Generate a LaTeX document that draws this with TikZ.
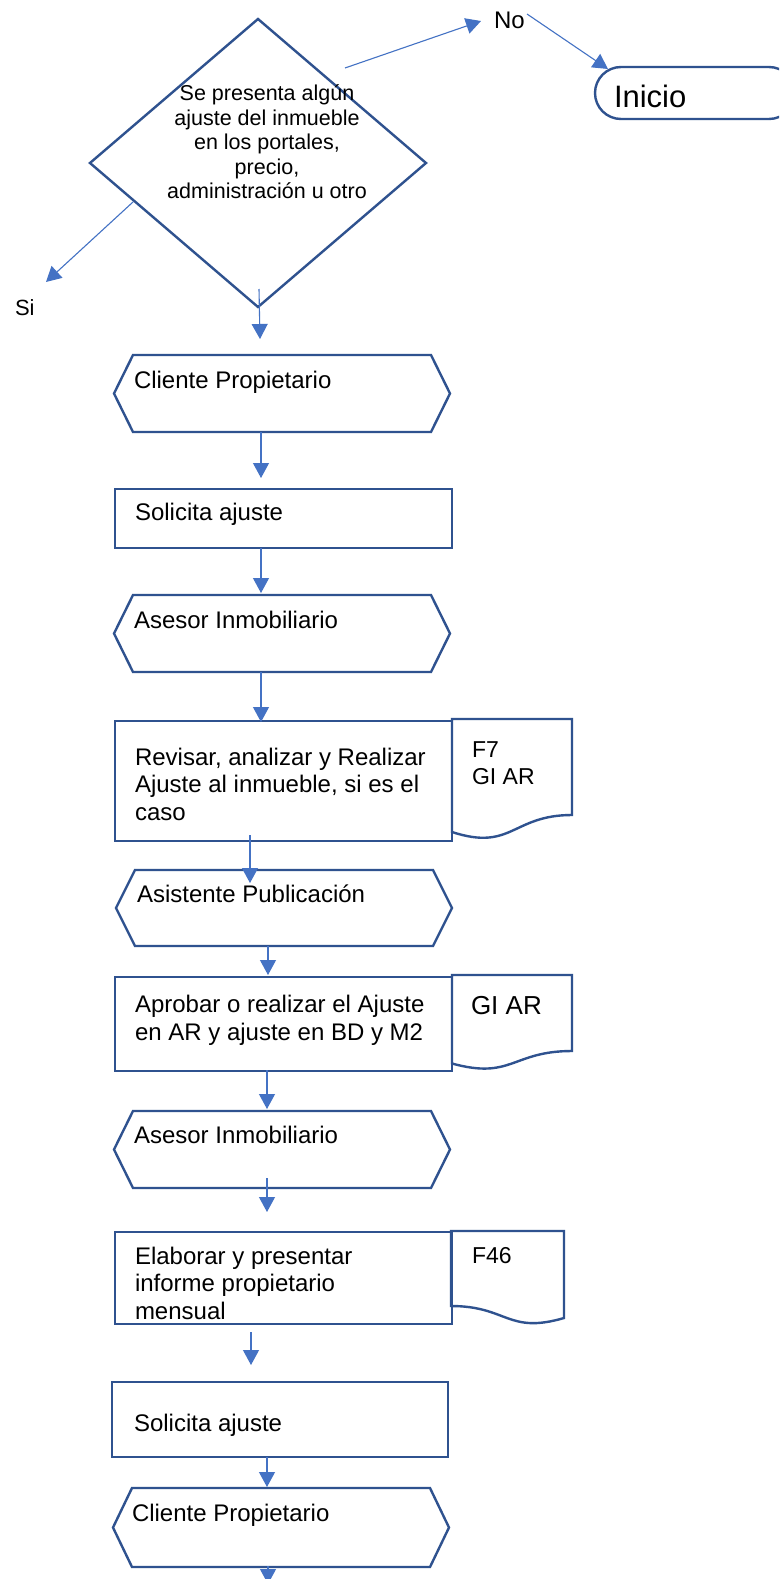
\documentclass[tikz,border=0pt]{standalone}
\usepackage{fontspec}
\setmainfont{Liberation Sans}
\usetikzlibrary{arrows.meta,calc}
\definecolor{shapeblue}{HTML}{2F528F}
\definecolor{linkblue}{HTML}{4472C4}

\tikzset{
  shp/.style={draw=shapeblue, line width=2.4pt, line join=miter},
  procbox/.style={shp, rectangle, inner sep=0pt, outer sep=0pt},
  hexframe/.style={rectangle, inner sep=0pt, outer sep=0pt},
  conn/.style={draw=linkblue, line width=1.1pt, -{Triangle[length=15pt,width=16pt]}},
  lbl/.style={anchor=base west, inner sep=0pt, outer sep=0pt, align=left,
              font=\fontsize{24}{27.4}\selectfont},
}

% horizontal hexagon drawn on the anchors of an empty frame node
\newcommand\hexoutline[1]{%
  \draw[shp] (#1.west) -- ([xshift=19pt]#1.north west) -- ([xshift=-19pt]#1.north east)
    -- (#1.east) -- ([xshift=-19pt]#1.south east) -- ([xshift=19pt]#1.south west) -- cycle;}

\begin{document}
\begin{tikzpicture}[x=1pt, y=-1pt]
\useasboundingbox (0,0) rectangle (779,1579);
\fill[white] (0,0) rectangle (779,1579);
\clip (0,0) rectangle (779,1579);

% decision
\coordinate (dtop) at (258,19);
\coordinate (dright) at (426,163);
\coordinate (dbottom) at (258,307);
\coordinate (dleft) at (90,163);
\draw[shp] (dtop) -- (dright) -- (dbottom) -- (dleft) -- cycle;
\node[align=center, inner sep=0pt, font=\fontsize{21.5}{24.5}\selectfont] (q) at (267,142)
  {Se presenta algún\\ajuste del inmueble\\en los portales,\\precio,\\administración u otro};

% start terminal
\node[procbox, rounded corners=26pt, minimum width=200pt, minimum height=52pt] (inicio) at (695,93) {};
\node[lbl, font=\fontsize{31}{35}\selectfont] (tinicio) at (614,107) {Inicio};

% branch labels
\node[lbl] (no) at (494,29) {No};
\node[lbl, font=\fontsize{22}{25}\selectfont] (si) at (15,315) {Si};

% frames of the steps
\node[hexframe, minimum width=336pt, minimum height=77pt] (h1) at (282,393.5) {};
\node[procbox, minimum width=337pt, minimum height=59pt] (r1) at (283.5,518.5) {};
\node[hexframe, minimum width=336pt, minimum height=77pt] (h2) at (282,633.5) {};
\node[procbox, minimum width=337pt, minimum height=120pt] (r2) at (283.5,781) {};
\node[hexframe, minimum width=336pt, minimum height=76pt] (h3) at (284,908) {};
\node[procbox, minimum width=337pt, minimum height=94pt] (r3) at (283.5,1024) {};
\node[hexframe, minimum width=336pt, minimum height=77pt] (h4) at (282,1149.5) {};
\node[procbox, minimum width=337pt, minimum height=92pt] (r4) at (283.5,1278) {};
\node[procbox, minimum width=336pt, minimum height=75pt] (r5) at (280,1419.5) {};
\node[hexframe, minimum width=336pt, minimum height=79pt] (h5) at (281,1527.5) {};
\hexoutline{h1}
\hexoutline{h2}
\hexoutline{h3}
\hexoutline{h4}
\hexoutline{h5}

% documents attached to the steps
\draw[shp] (452,719) -- (572,719) -- (572,815)
  .. controls (512,815) and (512,851.6) .. (452,832) -- cycle;
\draw[shp] (452,975) -- (572,975) -- (572,1051)
  .. controls (512,1051) and (512,1080) .. (452,1063.5) -- cycle;
\draw[shp] (451,1231) -- (564,1231) -- (564,1318)
  .. controls (507.5,1334.5) and (507.5,1306) .. (451,1306) -- cycle;

% step texts (multi-line texts sit on the baseline of their last line)
\node[lbl] (t1) at (134,388) {Cliente Propietario};
\node[lbl] (t2) at (135,520) {Solicita ajuste};
\node[lbl] (t3) at (134,628) {Asesor Inmobiliario};
\node[lbl] (t4) at (135,820) {Revisar, analizar y Realizar\\Ajuste al inmueble, si es el\\caso};
\node[lbl, font=\fontsize{23}{27}\selectfont] (f7) at (472,784) {F7\\GI AR};
\node[lbl] (t5) at (137,902) {Asistente Publicación};
\node[lbl] (t6) at (135,1040) {Aprobar o realizar el Ajuste\\en AR y ajuste en BD y M2};
\node[lbl, font=\fontsize{26}{30}\selectfont] (giar) at (471,1014) {GI AR};
\node[lbl] (t7) at (134,1143) {Asesor Inmobiliario};
\node[lbl] (t8) at (135,1319) {Elaborar y presentar\\informe propietario\\mensual};
\node[lbl, font=\fontsize{23}{27}\selectfont] (f46) at (472,1263) {F46};
\node[lbl] (t9) at (134,1431) {Solicita ajuste};
\node[lbl] (t10) at (132,1521) {Cliente Propietario};

% connector ends
\coordinate (nA) at (345,68);   \coordinate (nB) at (481,21);
\coordinate (iA) at (527,14);   \coordinate (iB) at (608,69);
\coordinate (sA) at (133,202);  \coordinate (sB) at (46,282);
\coordinate (c0a) at (259,289); \coordinate (c0b) at (260,339);
\coordinate (c1a) at (261,432); \coordinate (c1b) at (261,478);
\coordinate (c2a) at (261,548); \coordinate (c2b) at (261,593);
\coordinate (c3a) at (261,672); \coordinate (c3b) at (261,722);
\coordinate (c4a) at (250,835); \coordinate (c4b) at (250,883);
\coordinate (c5a) at (268,946); \coordinate (c5b) at (268,975);
\coordinate (c6a) at (267,1070); \coordinate (c6b) at (267,1109);
\coordinate (c7a) at (267,1178); \coordinate (c7b) at (267,1212);
\coordinate (c8a) at (251,1332); \coordinate (c8b) at (251,1365);
\coordinate (c9a) at (267,1457); \coordinate (c9b) at (267,1487);
\coordinate (c10a) at (268,1566); \coordinate (c10b) at (268,1584);

\draw[conn] (nA) -- (nB);
\draw[conn] (iA) -- (iB);
\draw[conn] (sA) -- (sB);
\draw[conn] (c0a) -- (c0b);
\draw[conn] (c1a) -- (c1b);
\draw[conn] (c2a) -- (c2b);
\draw[conn] (c3a) -- (c3b);
\draw[conn] (c4a) -- (c4b);
\draw[conn] (c5a) -- (c5b);
\draw[conn] (c6a) -- (c6b);
\draw[conn] (c7a) -- (c7b);
\draw[conn] (c8a) -- (c8b);
\draw[conn] (c9a) -- (c9b);
\draw[conn] (c10a) -- (c10b);
\end{tikzpicture}
\end{document}
